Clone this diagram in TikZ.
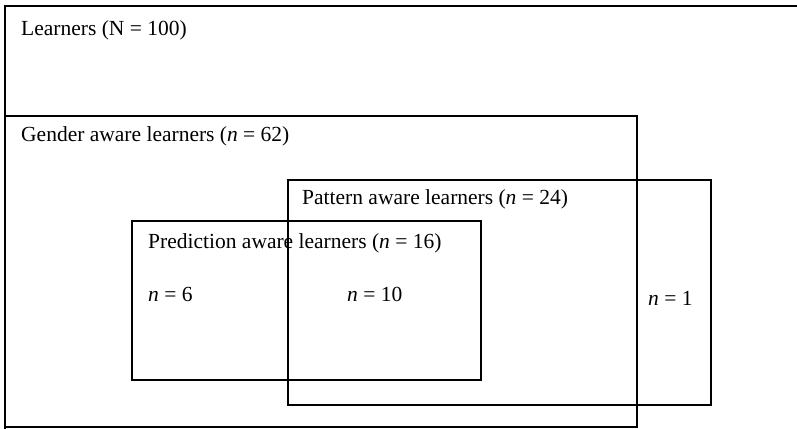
\documentclass[tikz,border=0pt]{standalone}
\usepackage{fontspec}
\setmainfont{Liberation Serif}
\begin{document}
\begin{tikzpicture}[x=1bp,y=-1bp,
  box/.style={draw=black,line width=1.6bp},
  lbl/.style={anchor=west,inner sep=0pt,font=\fontsize{21.5bp}{25bp}\selectfont}]
\useasboundingbox (0,0) rectangle (797,428);
\clip (0,0) rectangle (797,428);
\fill[white] (0,0) rectangle (797,428);
% boxes
\draw[box] (5,6) rectangle (820,450);
\draw[box] (5,116) rectangle (637,427);
\draw[box] (288,180) rectangle (711,405);
\draw[box] (132,221) rectangle (481,380);
% labels
\node[lbl] (learners) at (21,30) {Learners (N = 100)};
\node[lbl] (gender) at (21,136) {Gender aware learners (\textit{n} = 62)};
\node[lbl] (pattern) at (302,199) {Pattern aware learners (\textit{n} = 24)};
\node[lbl] (prediction) at (148,243) {Prediction aware learners (\textit{n} = 16)};
\node[lbl] (n6) at (148,294) {\textit{n} = 6};
\node[lbl] (n10) at (347,294) {\textit{n} = 10};
\node[lbl] (n1) at (648,298) {\textit{n} = 1};
\end{tikzpicture}
\end{document}
